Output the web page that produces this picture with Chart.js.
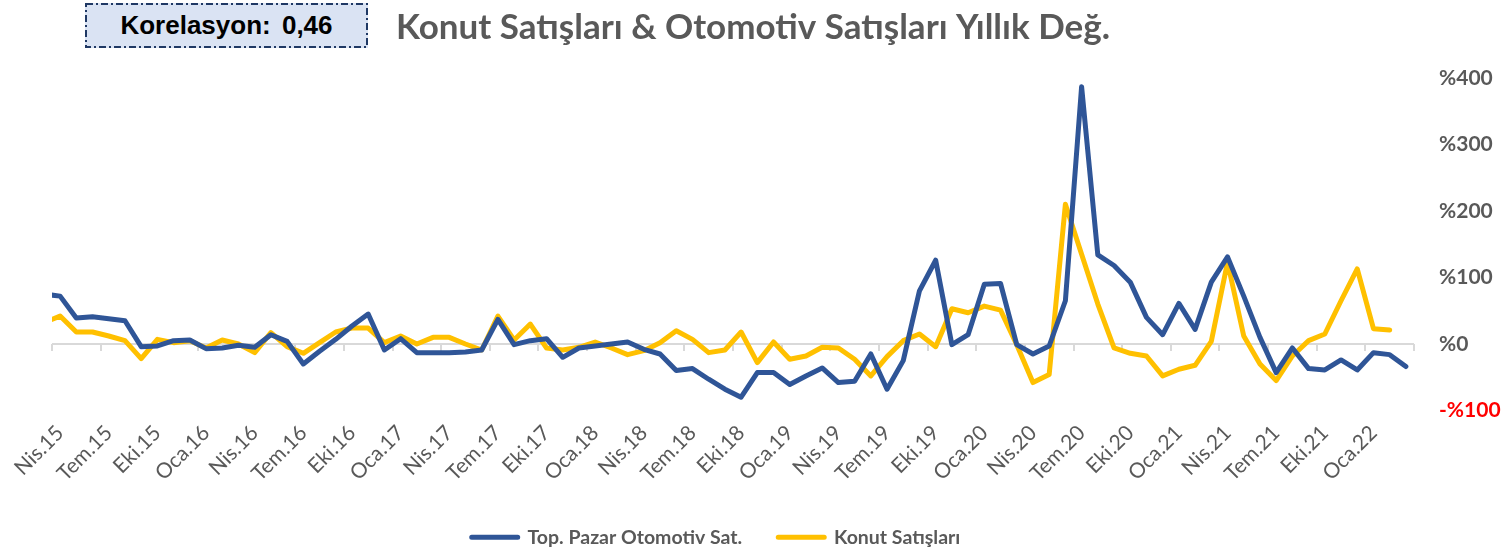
<!DOCTYPE html>
<html lang="tr">
<head>
<meta charset="utf-8">
<title>Konut Satışları & Otomotiv Satışları Yıllık Değ.</title>
<script src="https://cdn.jsdelivr.net/npm/chart.js@4.4.1/dist/chart.umd.min.js"></script>
<style>
  html, body { margin: 0; padding: 0; background: #fff; }
  #wrap { position: relative; width: 1506px; height: 551px; }
  #korelasyon {
    position: absolute; left: 85px; top: 3px; width: 283px; height: 45px;
    background: #DAE3F3; color: #000;
    font: bold 26px "Liberation Sans", Arial, sans-serif;
    display: flex; align-items: center; justify-content: center;
    word-spacing: 4px;
  }
  #korelasyon svg { position: absolute; left: 0; top: 0; }
  #korelasyon span { position: relative; }
</style>
</head>
<body>
<div id="wrap">
  <canvas id="chart" width="1506" height="551"></canvas>
  <div id="korelasyon">
    <svg width="283" height="45"><rect x="1" y="1" width="281" height="43" fill="none" stroke="#1F3864" stroke-width="2" stroke-dasharray="7,3,2,3"/></svg>
    <span>Korelasyon: 0,46</span>
  </div>
</div>
<script>
// aylık etiketler (Mar.15 - Mar.22)
const months = [
  'Mar.15','Nis.15','May.15','Haz.15','Tem.15','Ağu.15','Eyl.15','Eki.15','Kas.15','Ara.15',
  'Oca.16','Şub.16','Mar.16','Nis.16','May.16','Haz.16','Tem.16','Ağu.16','Eyl.16','Eki.16','Kas.16','Ara.16',
  'Oca.17','Şub.17','Mar.17','Nis.17','May.17','Haz.17','Tem.17','Ağu.17','Eyl.17','Eki.17','Kas.17','Ara.17',
  'Oca.18','Şub.18','Mar.18','Nis.18','May.18','Haz.18','Tem.18','Ağu.18','Eyl.18','Eki.18','Kas.18','Ara.18',
  'Oca.19','Şub.19','Mar.19','Nis.19','May.19','Haz.19','Tem.19','Ağu.19','Eyl.19','Eki.19','Kas.19','Ara.19',
  'Oca.20','Şub.20','Mar.20','Nis.20','May.20','Haz.20','Tem.20','Ağu.20','Eyl.20','Eki.20','Kas.20','Ara.20',
  'Oca.21','Şub.21','Mar.21','Nis.21','May.21','Haz.21','Tem.21','Ağu.21','Eyl.21','Eki.21','Kas.21','Ara.21',
  'Oca.22','Şub.22','Mar.22'
];

// yıllık değişim, %
const otomotiv = [
  75, 72, 39, 41, 38, 35, -4, -3, 5, 6, -7, -6, -2, -5, 14, 4,
  -30, -11, 7, 27, 45, -9, 8, -13, -13, -13, -12, -9, 37, -1, 5, 8,
  -20, -6, -3, 0, 3, -8, -15, -40, -37, -53, -68, -80, -43, -43, -61, -48,
  -36, -58, -56, -15, -68, -25, 80, 126, -1, 14, 90, 91, -1, -15, -3, 65,
  387, 134, 118, 93, 40, 14, 61, 22, 93, 131, 72, 10, -43, -6, -37, -39,
  -24, -39, -13, -16, -34
];

const konut = [
  32, 42, 18, 18, 12, 5, -22, 7, 2, 5, -6, 6, 0, -13, 17, -4,
  -14, 2, 18, 24, 24, 2, 12, 0, 10, 10, 0, -9, 42, 6, 30, -6,
  -9, -5, 3, -6, -16, -10, 2, 20, 7, -13, -9, 18, -28, 3, -23, -18,
  -5, -6, -23, -48, -19, 5, 15, -4, 53, 47, 57, 51, -1, -58, -46, 210,
  135, 60, -6, -14, -18, -48, -38, -32, 4, 123, 12, -30, -55, -18, 5, 15,
  65, 113, 23, 21
];

const yTicks = [-100, 0, 100, 200, 300, 400];

const gray = '#595959';
const fontFamily = 'Lato, "Liberation Sans", sans-serif';

// her 3 ayda bir etiket: Nis.15, Tem.15, ... Oca.22
const labelIdx = [];
for (let i = 1; i < months.length - 2; i += 3) labelIdx.push(i);

const toPoints = arr => arr.map((v, i) => ({ x: i, y: v }));

// sıfır çizgisi ve 3 aylık çentikler
const zeroLine = {
  id: 'zeroLine',
  beforeDatasetsDraw(chart) {
    const { ctx, scales: { x, y } } = chart;
    const y0 = Math.round(y.getPixelForValue(0));
    const xs = x.getPixelForValue(x.min);
    const xe = x.getPixelForValue(x.max);
    ctx.save();
    ctx.strokeStyle = '#D9D9D9';
    ctx.lineWidth = 2;
    ctx.beginPath();
    ctx.moveTo(xs, y0);
    ctx.lineTo(xe, y0);
    for (let b = x.min; b <= x.max + 0.01; b += 3) {
      const px = Math.round(x.getPixelForValue(b));
      ctx.moveTo(px, y0);
      ctx.lineTo(px, y0 + 7);
    }
    ctx.stroke();
    ctx.restore();
  }
};

// lejantı biraz sola kaydır
const legendShift = {
  id: 'legendShift',
  afterLayout(chart) {
    chart.legend.left -= 17;
    chart.legend.right -= 17;
  }
};

new Chart(document.getElementById('chart'), {
  type: 'line',
  data: {
    datasets: [
      {
        label: 'Top. Pazar Otomotiv Sat.',
        data: toPoints(otomotiv),
        borderColor: '#2F5597',
        backgroundColor: '#2F5597',
        borderWidth: 5,
        borderJoinStyle: 'round',
        borderCapStyle: 'round',
        pointRadius: 0,
        tension: 0
      },
      {
        label: 'Konut Satışları',
        data: toPoints(konut),
        borderColor: '#FFC000',
        backgroundColor: '#FFC000',
        borderWidth: 5,
        borderJoinStyle: 'round',
        borderCapStyle: 'round',
        pointRadius: 0,
        tension: 0
      }
    ]
  },
  options: {
    responsive: false,
    animation: false,
    layout: { padding: { left: 0, right: 0, top: 0, bottom: -6 } },
    plugins: {
      title: {
        display: true,
        text: 'Konut Satışları & Otomotiv Satışları Yıllık Değ.',
        color: gray,
        font: { family: fontFamily, size: 35, weight: 'bold' },
        padding: { top: 7, bottom: 29 }
      },
      legend: {
        position: 'bottom',
        fullSize: false,
        labels: {
          color: gray,
          font: { family: fontFamily, size: 19.5, weight: 'bold' },
          boxWidth: 46,
          boxHeight: 0,
          padding: 36
        }
      },
      tooltip: { enabled: false }
    },
    scales: {
      x: {
        type: 'linear',
        min: 0.5,
        max: months.length - 0.5,
        grid: { display: false, drawTicks: false },
        border: { display: false },
        afterBuildTicks: axis => { axis.ticks = labelIdx.map(v => ({ value: v })); },
        afterFit: axis => { axis.height = 81; },
        ticks: {
          autoSkip: false,
          minRotation: 45,
          maxRotation: 45,
          padding: 10,
          color: gray,
          font: { family: fontFamily, size: 21 },
          callback: v => months[v]
        }
      },
      // sol tarafta yalnızca boşluk bırakan eksen
      yLeft: {
        position: 'left',
        min: -100,
        max: 400,
        grid: { display: false, drawTicks: false },
        border: { display: false },
        ticks: { display: false },
        afterFit: axis => { axis.width = 52; }
      },
      y: {
        position: 'right',
        min: -100,
        max: 400,
        grid: { display: false, drawTicks: false },
        border: { display: false },
        afterBuildTicks: axis => { axis.ticks = yTicks.map(v => ({ value: v })); },
        afterFit: axis => { axis.width = 92; },
        ticks: {
          padding: 25,
          color: c => c.tick.value < 0 ? '#FF0000' : gray,
          font: { family: fontFamily, size: 21, weight: 'bold' },
          callback: v => (v < 0 ? '-%' : '%') + Math.abs(v)
        }
      }
    }
  },
  plugins: [zeroLine, legendShift]
});
</script>
</body>
</html>
